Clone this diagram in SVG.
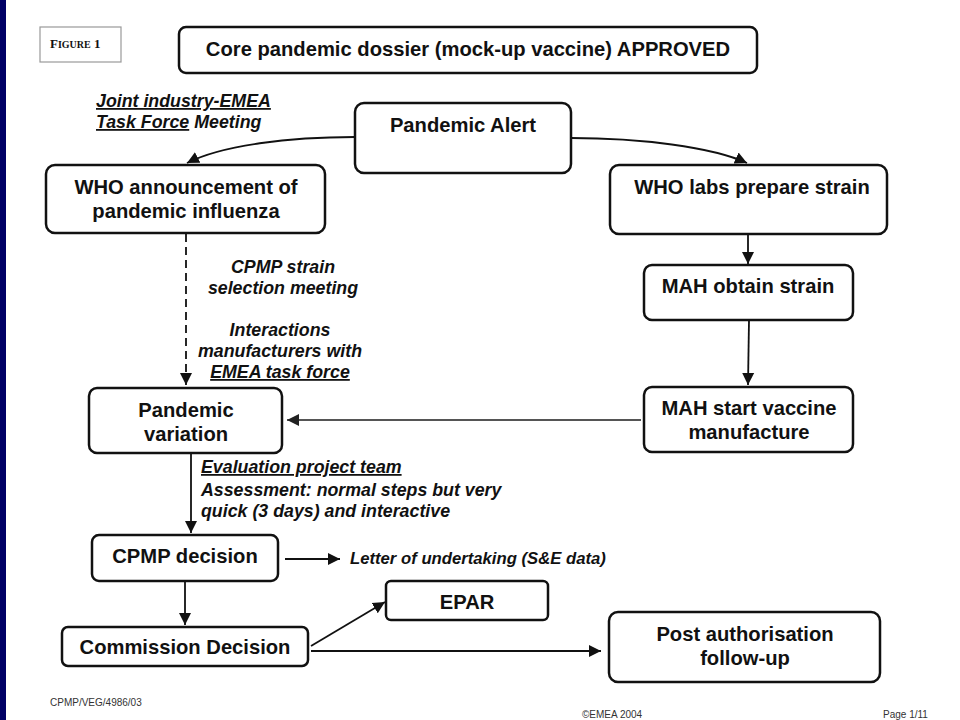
<svg xmlns="http://www.w3.org/2000/svg" width="960" height="720" viewBox="0 0 960 720">
<style>
.box{fill:#fff;stroke:#111;stroke-width:2.5}
.t{font-family:"Liberation Sans",Arial,sans-serif;font-weight:bold;font-size:20.2px;fill:#111;text-anchor:middle}
.l{font-family:"Liberation Sans",Arial,sans-serif;font-weight:bold;font-style:italic;font-size:17.8px;fill:#111}
.c{fill:none;stroke:#111;stroke-width:1.8}
.f{font-family:"Liberation Sans",Arial,sans-serif;font-size:10px;fill:#333}
</style>
<defs>
<marker id="ah" markerUnits="userSpaceOnUse" markerWidth="13" markerHeight="13" refX="12" refY="6.5" orient="auto">
<path d="M0,0.5 L12,6.5 L0,12.5 z" fill="#111"/>
</marker>
<marker id="ahg" markerUnits="userSpaceOnUse" markerWidth="13" markerHeight="13" refX="12" refY="6.5" orient="auto">
<path d="M0,0.5 L12,6.5 L0,12.5 z" fill="#222"/>
</marker>
</defs>
<rect x="0" y="0" width="960" height="720" fill="#fff"/>
<rect x="0" y="0" width="6" height="720" fill="#000066"/>

<g id="figure-label">
<rect x="40" y="27" width="81" height="35" fill="#fff" stroke="#999" stroke-width="1.2"/>
<text x="50" y="48" font-family="'Liberation Serif',serif" font-weight="bold" fill="#111"><tspan font-size="13">F</tspan><tspan font-size="10">IGURE</tspan><tspan font-size="13"> 1</tspan></text>
</g>

<g id="connectors">
<path class="c" d="M355,137 C290,137 222,145 187,163" marker-end="url(#ah)"/>
<path class="c" d="M571,138 C640,138 712,147 747,163" marker-end="url(#ah)"/>
<path class="c" d="M748,235 L748,264" marker-end="url(#ah)"/>
<path class="c" d="M749,320 L748,385" marker-end="url(#ah)"/>
<path class="c" d="M186,234 L186,385" stroke-dasharray="8,5" marker-end="url(#ah)"/>
<path d="M641,420 L287,420" fill="none" stroke="#555" stroke-width="2" marker-end="url(#ahg)"/>
<path class="c" d="M191,454 L191,533" marker-end="url(#ah)"/>
<path class="c" d="M285,559 L340,559" marker-end="url(#ah)"/>
<path class="c" d="M185,582 L185,625" marker-end="url(#ah)"/>
<path class="c" d="M311,646 L385,602" marker-end="url(#ah)"/>
<path class="c" d="M311,651 L601,651" stroke-width="1.5" marker-end="url(#ah)"/>
</g>

<g id="core-dossier">
<rect class="box" x="179" y="27" width="578" height="46" rx="7"/>
<text class="t" x="468" y="56">Core pandemic dossier (mock-up vaccine) APPROVED</text>
</g>

<g id="task-force-label">
<text class="l" x="96" y="107"><tspan text-decoration="underline">Joint industry-EMEA</tspan></text>
<text class="l" x="96" y="128"><tspan text-decoration="underline">Task Force</tspan> Meeting</text>
</g>

<g id="pandemic-alert">
<rect class="box" x="355" y="103" width="216" height="70" rx="9"/>
<text class="t" x="463" y="132">Pandemic Alert</text>
</g>

<g id="who-announcement">
<rect class="box" x="46" y="165" width="279" height="68" rx="9"/>
<text class="t" x="186" y="194">WHO announcement of</text>
<text class="t" x="186" y="218">pandemic influenza</text>
</g>

<g id="who-labs">
<rect class="box" x="610" y="165" width="277" height="69" rx="9"/>
<text class="t" x="752" y="194">WHO labs prepare strain</text>
</g>

<g id="mah-obtain">
<rect class="box" x="644" y="265" width="209" height="55" rx="8"/>
<text class="t" x="748" y="293">MAH obtain strain</text>
</g>

<g id="mah-start">
<rect class="box" x="644" y="387" width="209" height="65" rx="8"/>
<text class="t" x="749" y="415">MAH start vaccine</text>
<text class="t" x="749" y="439">manufacture</text>
</g>

<g id="strain-labels">
<text class="l" x="283" y="273" text-anchor="middle">CPMP strain</text>
<text class="l" x="283" y="294" text-anchor="middle">selection meeting</text>
<text class="l" x="280" y="336" text-anchor="middle">Interactions</text>
<text class="l" x="280" y="357" text-anchor="middle">manufacturers with</text>
<text class="l" x="280" y="378" text-anchor="middle" text-decoration="underline">EMEA task force</text>
</g>

<g id="pandemic-variation">
<rect class="box" x="89" y="388" width="193" height="65" rx="8"/>
<text class="t" x="186" y="417">Pandemic</text>
<text class="t" x="186" y="441">variation</text>
</g>

<g id="evaluation-labels">
<text class="l" x="201" y="473" text-decoration="underline">Evaluation project team</text>
<text class="l" x="201" y="496">Assessment: normal steps but very</text>
<text class="l" x="201" y="517">quick (3 days) and interactive</text>
</g>

<g id="cpmp-decision">
<rect class="box" x="92" y="535" width="186" height="46" rx="7"/>
<text class="t" x="185" y="563">CPMP decision</text>
</g>

<g id="letter-label">
<text class="l" x="350" y="564" style="font-size:16.7px">Letter of undertaking (S&amp;E data)</text>
</g>

<g id="commission-decision">
<rect class="box" x="62" y="627" width="246" height="39" rx="6"/>
<text class="t" x="185" y="654">Commission Decision</text>
</g>

<g id="epar">
<rect class="box" x="386" y="581" width="162" height="39" rx="5"/>
<text class="t" x="467" y="609">EPAR</text>
</g>

<g id="post-authorisation">
<rect class="box" x="609" y="612" width="271" height="70" rx="9"/>
<text class="t" x="745" y="641">Post authorisation</text>
<text class="t" x="745" y="665">follow-up</text>
</g>

<g id="footer">
<text class="f" x="50" y="706">CPMP/VEG/4986/03</text>
<text class="f" x="582" y="718">©EMEA 2004</text>
<text class="f" x="883" y="718">Page 1/11</text>
</g>
</svg>
